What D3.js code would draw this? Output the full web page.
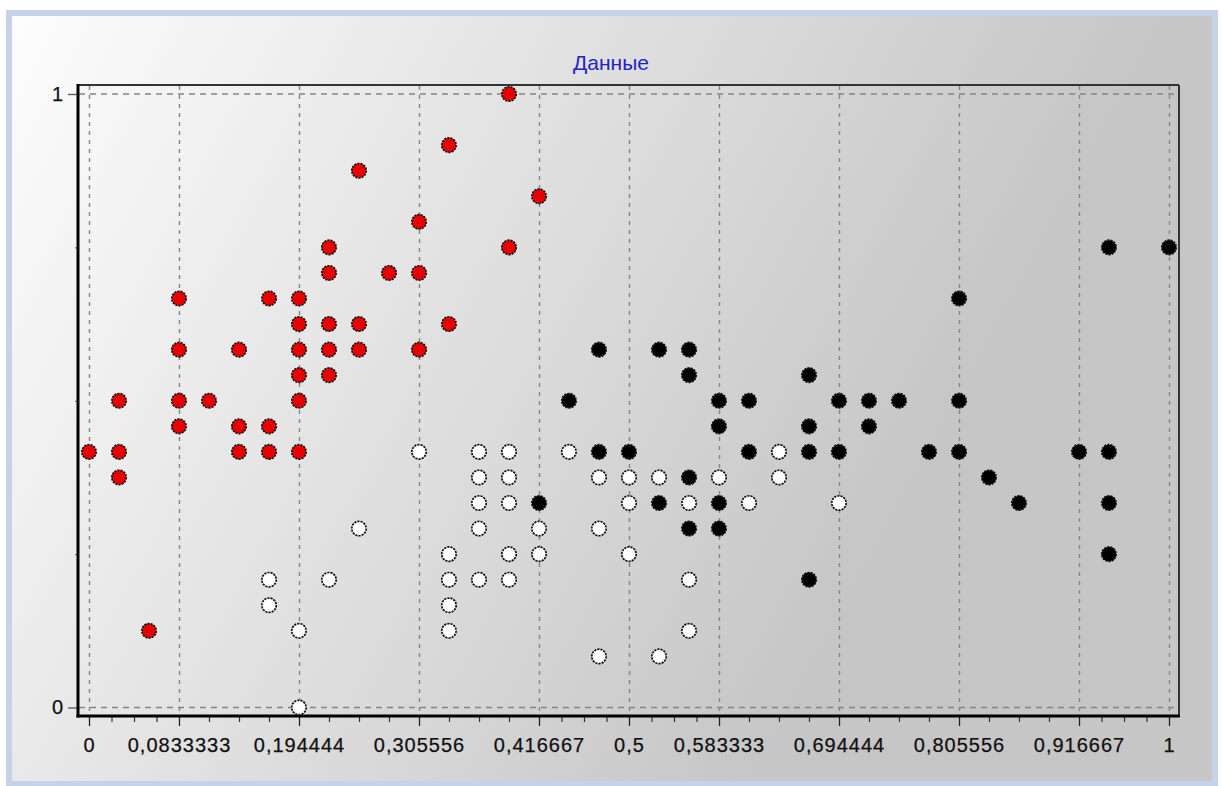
<!DOCTYPE html>
<html>
<head>
<meta charset="utf-8">
<script src="https://cdn.jsdelivr.net/npm/d3@7"></script>
<style>
  body { margin: 0; background: #fff; }
  text { font-family: "Liberation Sans", Arial, sans-serif; }
</style>
</head>
<body>
<div class="container"></div>
<script>
// points as [x, y]
var redPoints = [
  [0, 0.4167], [0.0278, 0.5], [0.0278, 0.4167], [0.0278, 0.375], [0.0556, 0.125],
  [0.0833, 0.6667], [0.0833, 0.5833], [0.0833, 0.5], [0.0833, 0.4583], [0.1111, 0.5],
  [0.1389, 0.5833], [0.1389, 0.4583], [0.1389, 0.4167], [0.1667, 0.6667], [0.1667, 0.4583],
  [0.1667, 0.4167], [0.1944, 0.6667], [0.1944, 0.625], [0.1944, 0.5833], [0.1944, 0.5417],
  [0.1944, 0.5], [0.1944, 0.4167], [0.2222, 0.75], [0.2222, 0.7083], [0.2222, 0.625],
  [0.2222, 0.5833], [0.2222, 0.5417], [0.25, 0.875], [0.25, 0.625], [0.25, 0.5833],
  [0.2778, 0.7083], [0.3056, 0.7917], [0.3056, 0.7083], [0.3056, 0.5833], [0.3333, 0.9167],
  [0.3333, 0.625], [0.3889, 1], [0.3889, 0.75], [0.4167, 0.8333]
];
var whitePoints = [
  [0.1667, 0.2083], [0.1667, 0.1667], [0.1944, 0.125], [0.1944, 0], [0.2222, 0.2083],
  [0.25, 0.2917], [0.3056, 0.4167], [0.3333, 0.25], [0.3333, 0.2083], [0.3333, 0.1667],
  [0.3333, 0.125], [0.3611, 0.4167], [0.3611, 0.375], [0.3611, 0.3333], [0.3611, 0.2917],
  [0.3611, 0.2083], [0.3889, 0.4167], [0.3889, 0.375], [0.3889, 0.3333], [0.3889, 0.25],
  [0.3889, 0.2083], [0.4167, 0.2917], [0.4167, 0.25], [0.4444, 0.4167], [0.4722, 0.375],
  [0.4722, 0.2917], [0.4722, 0.0833], [0.5, 0.375], [0.5, 0.3333], [0.5, 0.25],
  [0.5278, 0.375], [0.5278, 0.0833], [0.5556, 0.3333], [0.5556, 0.2083], [0.5556, 0.125],
  [0.5833, 0.375], [0.6111, 0.3333], [0.6389, 0.4167], [0.6389, 0.375], [0.6944, 0.3333]
];
var blackPoints = [
  [0.4167, 0.3333], [0.4444, 0.5], [0.4722, 0.5833], [0.4722, 0.4167], [0.5, 0.4167],
  [0.5278, 0.5833], [0.5278, 0.3333], [0.5556, 0.5833], [0.5556, 0.5417], [0.5556, 0.375],
  [0.5556, 0.2917], [0.5833, 0.5], [0.5833, 0.4583], [0.5833, 0.3333], [0.5833, 0.2917],
  [0.6111, 0.5], [0.6111, 0.4167], [0.6667, 0.5417], [0.6667, 0.4583], [0.6667, 0.4167],
  [0.6667, 0.2083], [0.6944, 0.5], [0.6944, 0.4167], [0.7222, 0.5], [0.7222, 0.4583],
  [0.75, 0.5], [0.7778, 0.4167], [0.8056, 0.6667], [0.8056, 0.5], [0.8056, 0.4167],
  [0.8333, 0.375], [0.8611, 0.3333], [0.9167, 0.4167], [0.9444, 0.75], [0.9444, 0.4167],
  [0.9444, 0.3333], [0.9444, 0.25], [1, 0.75]
];
var xTickValues = [0, 0.0833333, 0.194444, 0.305556, 0.416667, 0.5, 0.583333, 0.694444, 0.805556, 0.916667, 1];
var xTickLabels = ["0", "0,0833333", "0,194444", "0,305556", "0,416667", "0,5", "0,583333", "0,694444", "0,805556", "0,916667", "1"];
var yTickValues = [0, 1];
var yTickLabels = ["0", "1"];
var yMinorValues = [0.25, 0.5, 0.75];
var chartTitle = "Данные";

var WIDTH = 1221, HEIGHT = 786;
var frame = { left: 78, right: 1179, top: 85, bottom: 716 };

var loadChart = function () {
  var svg = d3.select('.container').append('svg')
    .attr('width', WIDTH).attr('height', HEIGHT);

  var grad = svg.append('defs').append('linearGradient')
    .attr('id', 'bg').attr('gradientUnits', 'userSpaceOnUse')
    .attr('x1', 12).attr('y1', 16).attr('x2', 900).attr('y2', 500);
  grad.append('stop').attr('offset', 0).attr('stop-color', '#fdfdfd');
  grad.append('stop').attr('offset', 1).attr('stop-color', '#c6c6c6');

  // panel with light blue border
  svg.append('rect')
    .attr('x', 9).attr('y', 13).attr('width', 1206).attr('height', 771)
    .attr('fill', 'url(#bg)').attr('stroke', '#c4d3ea').attr('stroke-width', 6);

  var xScale = d3.scaleLinear().domain([0, 1]).range([89, 1169]);
  var yScale = d3.scaleLinear().domain([0, 1]).range([707.5, 94]);

  // grid
  var grid = svg.append('g').attr('stroke', '#858585').attr('stroke-width', 1.4);
  grid.selectAll('line.v').data(xTickValues).enter().append('line')
    .attr('class', 'v')
    .attr('x1', function (d) { return Math.round(xScale(d)) + 0.5; })
    .attr('x2', function (d) { return Math.round(xScale(d)) + 0.5; })
    .attr('y1', frame.top + 1).attr('y2', frame.bottom - 1)
    .attr('stroke-dasharray', '4,5');
  grid.selectAll('line.h').data(yTickValues).enter().append('line')
    .attr('class', 'h')
    .attr('x1', frame.left + 1).attr('x2', frame.right - 1)
    .attr('y1', function (d) { return yScale(d); })
    .attr('y2', function (d) { return yScale(d); })
    .attr('stroke-dasharray', '6,5');

  // frame
  svg.append('line').attr('x1', frame.left).attr('x2', frame.right)
    .attr('y1', frame.top).attr('y2', frame.top).attr('stroke', '#333').attr('stroke-width', 2);
  svg.append('line').attr('x1', frame.right).attr('x2', frame.right)
    .attr('y1', frame.top).attr('y2', frame.bottom).attr('stroke', '#333').attr('stroke-width', 2);

  // minor ticks (layout only: three between each pair of labelled ticks)
  var xMinor = [];
  for (var k = 0; k < xTickValues.length - 1; k++) {
    var a = xTickValues[k], b = xTickValues[k + 1];
    for (var m = 1; m < 4; m++) xMinor.push(a + (b - a) * m / 4);
  }

  var xAxis = d3.axisBottom(xScale).tickValues(xTickValues)
    .tickFormat(function (d, i) { return xTickLabels[i]; })
    .tickSize(10).tickPadding(12).tickSizeOuter(0);
  var gx = svg.append('g').attr('transform', 'translate(0,' + frame.bottom + ')').call(xAxis);
  gx.select('.domain').remove();
  gx.selectAll('line').attr('stroke', '#222').attr('stroke-width', 1.3);
  gx.selectAll('text').attr('font-size', 20).attr('letter-spacing', 1)
    .attr('fill', '#111').attr('stroke', '#111').attr('stroke-width', 0.25);

  var gxm = svg.append('g').attr('transform', 'translate(0,' + frame.bottom + ')')
    .call(d3.axisBottom(xScale).tickValues(xMinor).tickFormat('').tickSize(6).tickSizeOuter(0));
  gxm.select('.domain').remove();
  gxm.selectAll('line').attr('stroke', '#333').attr('stroke-width', 1.2);

  var yAxis = d3.axisLeft(yScale).tickValues(yTickValues)
    .tickFormat(function (d, i) { return yTickLabels[i]; })
    .tickSize(10).tickPadding(5).tickSizeOuter(0);
  var gy = svg.append('g').attr('transform', 'translate(' + frame.left + ',0)').call(yAxis);
  gy.select('.domain').remove();
  gy.selectAll('line').attr('stroke', '#555').attr('stroke-width', 1.3);
  gy.selectAll('text').attr('font-size', 20).attr('fill', '#111')
    .attr('stroke', '#111').attr('stroke-width', 0.25);

  var gym = svg.append('g').attr('transform', 'translate(' + frame.left + ',0)')
    .call(d3.axisLeft(yScale).tickValues(yMinorValues).tickFormat('').tickSize(3).tickSizeOuter(0));
  gym.select('.domain').remove();
  gym.selectAll('line').attr('stroke', '#555');

  svg.append('line').attr('x1', frame.left).attr('x2', frame.left)
    .attr('y1', frame.top - 1).attr('y2', frame.bottom + 1.5).attr('stroke', '#000').attr('stroke-width', 3);
  svg.append('line').attr('x1', frame.left - 1.5).attr('x2', frame.right + 1)
    .attr('y1', frame.bottom).attr('y2', frame.bottom).attr('stroke', '#000').attr('stroke-width', 3);

  // title
  svg.append('text').attr('x', 611).attr('y', 62).attr('text-anchor', 'middle')
    .attr('dominant-baseline', 'central').attr('font-size', 21).attr('fill', '#2323c8')
    .text(chartTitle);

  // points
  var addSeries = function (data, fill) {
    svg.append('g').selectAll('circle').data(data).enter().append('circle')
      .attr('cx', function (d) { return xScale(d[0]); })
      .attr('cy', function (d) { return yScale(d[1]); })
      .attr('r', 7.2)
      .attr('fill', fill)
      .attr('stroke', '#111')
      .attr('stroke-width', 1.7)
      .attr('stroke-dasharray', '2.2,1');
  };
  addSeries(redPoints, '#e80000');
  addSeries(whitePoints, '#ffffff');
  addSeries(blackPoints, '#000000');
};

window.onload = loadChart;
</script>
</body>
</html>
